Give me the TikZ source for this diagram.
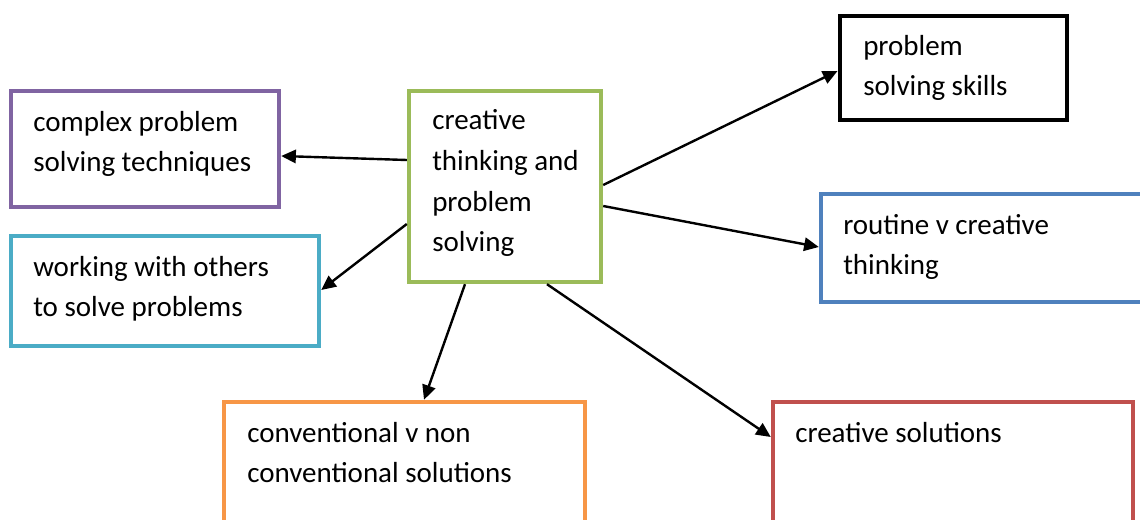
\documentclass[tikz,border=0pt]{standalone}
\usepackage{fontspec}
\setmainfont{Carlito}
\usetikzlibrary{arrows.meta}
\definecolor{cpurple}{HTML}{8064A2}
\definecolor{ccyan}{HTML}{4BACC6}
\definecolor{cgreen}{HTML}{9BBB59}
\definecolor{cblue}{HTML}{4F81BD}
\definecolor{corange}{HTML}{F79646}
\definecolor{cred}{HTML}{C0504D}
\tikzset{
  box/.style={draw=#1, line width=3.3pt, inner sep=0pt, fill=white},
  lbl/.style={anchor=base west, inner sep=0pt, align=left, font=\fontsize{21.75pt}{30.5pt}\selectfont},
  conn/.style={line width=1.8pt, -{Triangle[length=11pt,width=10pt]}}
}
\begin{document}
\begin{tikzpicture}[x=0.75pt,y=-0.75pt]
\useasboundingbox (0,0) rectangle (1140,520);
\clip (0,0) rectangle (1140,520);
\node[box=cpurple, minimum width=201pt, minimum height=87pt] (pu) at (145,149) {};
\node[box=ccyan, minimum width=231pt, minimum height=82.5pt] (cy) at (165,291) {};
\node[box=cgreen, minimum width=144pt, minimum height=143.25pt] (gr) at (505,186.5) {};
\node[box=black, line width=3.7pt, minimum width=170.25pt, minimum height=78pt] (bk) at (953.5,68) {};
\node[box=cblue, minimum width=246.75pt, minimum height=81pt] (bl) at (985.5,248) {};
\node[box=corange, minimum width=270.75pt, minimum height=96pt] (or) at (404.5,466) {};
\node[box=cred, minimum width=270pt, minimum height=96pt] (rd) at (953,466) {};

% anchor base west refers to the last line's baseline
\node[lbl] (tpu) at (33,172) {complex problem\\solving techniques};
\node[lbl] (tcy) at (33,317) {working with others\\to solve problems};
\node[lbl] (tgr) at (432,252) {creative\\thinking and\\problem\\solving};
\node[lbl] (tbk) at (863,96) {problem\\solving skills};
\node[lbl] (tbl) at (843,275) {routine v creative\\thinking};
\node[lbl] (tor) at (247,483) {conventional v non\\conventional solutions};
\node[lbl] (trd) at (795,443) {creative solutions};

\draw[conn] (gr.west |- 0,160) -- (pu.east |- 0,156);
\draw[conn] (gr.west |- 0,224) -- (cy.east |- 0,290);
\draw[conn] (gr.east |- 0,185) -- (bk.west |- 0,71);
\draw[conn] (gr.east |- 0,206) -- (bl.west |- 0,247);
\draw[conn] (gr.south -| 465,0) -- (or.north -| 424,0);
\draw[conn] (gr.south -| 547,0) -- (rd.west |- 0,437);
\end{tikzpicture}
\end{document}
